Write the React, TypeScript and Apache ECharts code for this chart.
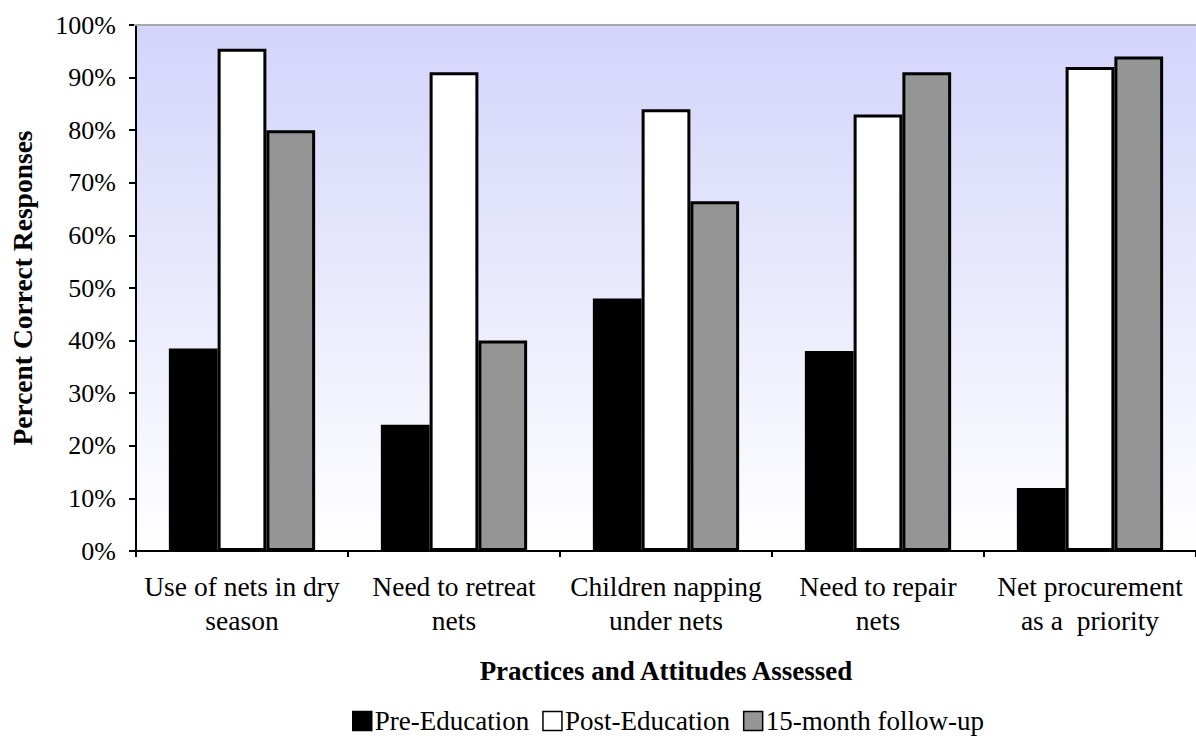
import React, { useEffect, useRef } from "react";
import * as echarts from "echarts";

const categories = [
  "Use of nets in dry\nseason",
  "Need to retreat\nnets",
  "Children napping\nunder nets",
  "Need to repair\nnets",
  "Net procurement\nas a  priority",
];
const preEducation = [38.5, 24, 48, 38, 12];
const postEducation = [95.5, 91, 84, 83, 92];
const followUp = [80, 40, 66.5, 91, 94];
const seriesNames = ["Pre-Education", "Post-Education", "15-month follow-up"];
const yTicks = { min: 0, max: 100, interval: 10 };

const FONT = "'Liberation Serif', 'Times New Roman', serif";

export default function App() {
  const ref = useRef<HTMLDivElement>(null);
  useEffect(() => {
    if (!ref.current) return;
    const chart = echarts.init(ref.current, undefined, { renderer: "svg" });
    const barStyle = (fill: string) => ({
      color: fill,
      borderColor: "#000",
      borderWidth: 3,
    });
    chart.setOption({
      animation: false,
      textStyle: { fontFamily: FONT, color: "#000" },
      grid: {
        left: 134,
        top: 25,
        width: 1074,
        bottom: 187,
        show: true,
        borderWidth: 0,
        backgroundColor: new echarts.graphic.LinearGradient(0, 0, 0, 1, [
          { offset: 0, color: "#d3d4fa" },
          { offset: 1, color: "#ffffff" },
        ]),
      },
      legend: {
        left: 352,
        top: 707,
        padding: 0,
        icon: "rect",
        itemWidth: 19,
        itemHeight: 19,
        itemGap: 13,
        textStyle: { fontFamily: FONT, fontSize: 27, color: "#000", lineHeight: 28, padding: [0, 0, 0, -2] },
        data: seriesNames.map((n) => ({
          name: n,
          itemStyle: { borderColor: "#000", borderWidth: 1.5 },
        })),
      },
      xAxis: {
        type: "category",
        data: categories,
        name: "Practices and Attitudes Assessed",
        nameLocation: "middle",
        nameGap: 106,
        nameTextStyle: { fontFamily: FONT, fontSize: 27, fontWeight: "bold", color: "#000" },
        axisLine: { lineStyle: { color: "#000", width: 2 } },
        axisTick: { show: true, length: 6, lineStyle: { color: "#000", width: 2 } },
        axisLabel: {
          fontFamily: FONT,
          fontSize: 27.5,
          color: "#000",
          lineHeight: 34,
          margin: 18,
          interval: 0,
        },
      },
      yAxis: {
        type: "value",
        min: yTicks.min,
        max: yTicks.max,
        interval: yTicks.interval,
        name: "Percent Correct Responses",
        nameLocation: "middle",
        nameGap: 100,
        nameTextStyle: { fontFamily: FONT, fontSize: 27.5, fontWeight: "bold", color: "#000" },
        axisLine: { show: true, lineStyle: { color: "#000", width: 2 } },
        axisTick: { show: true, length: 7, lineStyle: { color: "#000", width: 2 } },
        splitLine: { show: false },
        axisLabel: {
          fontFamily: FONT,
          fontSize: 26,
          color: "#000",
          margin: 20,
          formatter: (v: number) => `${v}%`,
        },
      },
      graphic: [
        {
          type: "line",
          shape: { x1: 134, y1: 25, x2: 1196, y2: 25 },
          style: { stroke: "#a8a8a8", lineWidth: 2 },
          z: 10,
        },
      ],
      series: [
        {
          name: seriesNames[0],
          type: "bar",
          data: preEducation,
          barGap: "0%",
          barCategoryGap: "31%",
          itemStyle: barStyle("#000000"),
        },
        {
          name: seriesNames[1],
          type: "bar",
          data: postEducation,
          barGap: "0%",
          barCategoryGap: "31%",
          itemStyle: barStyle("#ffffff"),
        },
        {
          name: seriesNames[2],
          type: "bar",
          data: followUp,
          barGap: "0%",
          barCategoryGap: "31%",
          itemStyle: barStyle("#959595"),
        },
      ],
    });
    return () => chart.dispose();
  }, []);
  return (
    <div
      ref={ref}
      style={{ position: "absolute", left: 0, top: 0, width: 1196, height: 738, background: "#fff" }}
    />
  );
}
